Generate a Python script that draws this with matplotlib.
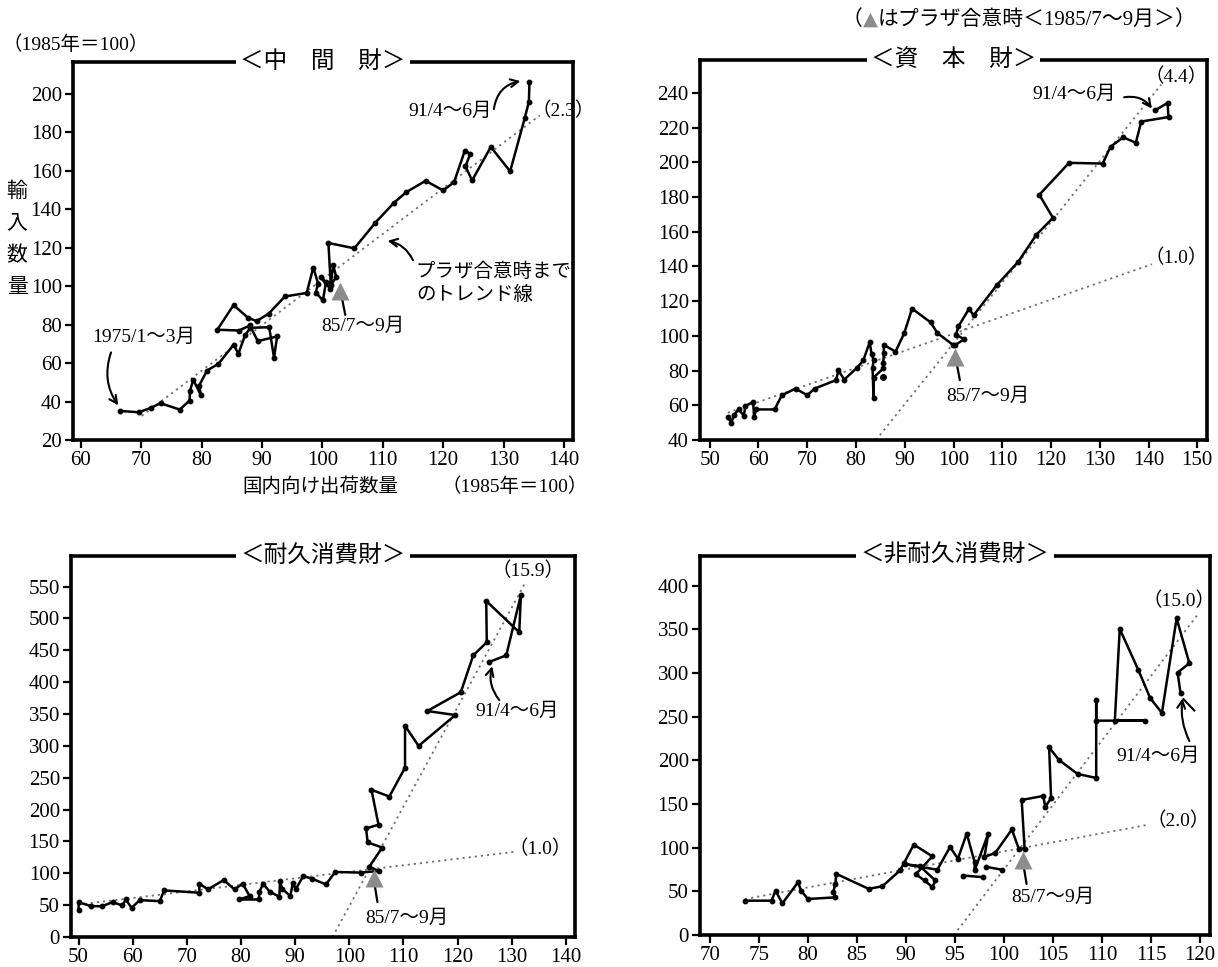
import numpy as np
import matplotlib.pyplot as plt

plt.rcParams['font.family'] = ['Liberation Serif', 'Noto Sans CJK JP']

# ---- data (x = domestic shipments, y = imports) ----
# 中間財
p1_x = [66.5, 69.6, 71.6, 73.2, 76.4, 78.0, 78.1, 78.6, 79.9, 79.6, 80.9, 82.8, 85.3, 86.1,
        87.2, 88.1, 91.2, 92.0, 92.5, 89.3, 88.0, 86.2, 82.6, 85.3, 87.7, 89.1, 91.1, 93.8,
        97.4, 98.5, 99.3, 98.9, 100.1, 100.6, 99.7, 101.3, 101.8, 102.3, 101.4, 101.0, 105.3,
        108.8, 111.9, 113.9, 117.1, 120.0, 121.8, 123.6, 124.5, 123.7, 124.8, 127.9, 131.1,
        133.5, 134.2, 134.3]
p1_y = [35.1, 34.4, 36.7, 39.1, 35.8, 40.5, 45.5, 51.4, 43.2, 48.3, 56.1, 59.6, 69.5, 64.8,
        74.5, 78.3, 78.6, 62.7, 73.8, 71.4, 79.5, 76.9, 77.3, 90.1, 83.5, 81.8, 85.6, 94.6,
        96.4, 109.6, 101.3, 96.6, 92.6, 102.1, 104.5, 98.6, 110.8, 104.7, 100.5, 122.4, 119.6,
        133.0, 143.4, 148.8, 154.7, 149.7, 153.9, 170.4, 168.7, 162.2, 154.9, 172.3, 159.6,
        187.1, 195.7, 206.1]
p1_trend = ([70.1, 136.0], [32.5, 188.7])

# 資本財
p2_x = [53.7, 54.4, 55.0, 55.9, 57.0, 57.3, 58.9, 59.1, 59.5, 63.3, 64.8, 67.6, 70.0, 71.5,
        75.9, 76.4, 77.6, 80.2, 81.5, 82.8, 83.2, 83.6, 83.4, 83.6, 83.6, 85.6, 85.6, 85.7,
        85.7, 88.1, 89.9, 91.5, 95.3, 96.7, 99.9, 100.4, 102.2, 100.5, 101.0, 103.2, 104.1,
        108.9, 113.3, 117.0, 120.4, 117.6, 123.7, 130.6, 132.2, 134.8, 137.4, 138.5, 144.1,
        143.9, 141.3]
p2_y = [53.2, 49.9, 54.5, 57.6, 54.1, 59.6, 61.9, 53.2, 57.6, 57.6, 65.8, 69.6, 65.8, 69.6,
        74.5, 80.1, 74.8, 81.6, 85.9, 96.3, 89.6, 86.1, 81.2, 64.2, 76.0, 81.2, 84.5, 90.0,
        94.8, 90.9, 101.6, 115.7, 107.8, 101.6, 94.8, 94.8, 98.1, 100.6, 105.4, 115.7, 111.8,
        129.3, 142.8, 158.3, 168.0, 181.3, 199.7, 199.3, 209.0, 214.4, 211.3, 223.5, 226.1,
        234.2, 229.9]
p2_stray = ([85.6], [76.5])
p2_trend_lo = ([53.7, 140.7], [55.7, 141.3])
p2_trend_hi = ([84.1, 142.6], [40.0, 244.8])

# 耐久消費財
p3_x = [50.0, 50.0, 52.3, 54.3, 56.3, 58.1, 58.7, 59.8, 61.3, 65.0, 65.8, 72.3, 72.3, 73.9,
        76.8, 78.8, 80.3, 81.6, 79.6, 83.3, 83.4, 84.1, 85.3, 87.1, 87.2, 87.6, 89.1, 89.6,
        90.1, 91.5, 93.1, 95.7, 97.4, 102.1, 105.4, 103.7, 106.1, 103.4, 103.1, 105.4, 104.1,
        107.4, 110.3, 110.3, 112.8, 119.6, 114.4, 120.6, 122.9, 125.4, 125.3, 131.4, 131.7,
        129.0, 125.8]
p3_y = [43.0, 54.7, 48.4, 48.4, 54.7, 49.5, 58.9, 45.8, 57.9, 56.3, 73.2, 69.5, 83.7, 74.7,
        89.5, 74.7, 83.7, 64.2, 58.9, 58.9, 71.1, 83.7, 71.1, 63.2, 87.9, 76.0, 64.2, 85.3,
        74.7, 95.8, 91.6, 82.6, 102.1, 101.1, 103.7, 110.5, 140.5, 148.4, 170.5, 176.3, 231.1,
        220.5, 265.8, 331.6, 300.0, 348.4, 354.7, 384.2, 442.1, 462.6, 527.4, 478.4, 536.8,
        442.1, 431.6]
p3_trend_lo = ([50.0, 131.0], [51.0, 134.2])
p3_trend_hi = ([96.9, 132.5], [0.0, 556.0])

# 非耐久消費財
p4_x = [73.6, 76.3, 76.7, 77.4, 79.0, 79.3, 80.0, 82.8, 82.6, 82.8, 82.9, 86.2, 87.6, 89.4,
        89.8, 90.8, 92.7, 91.0, 91.9, 92.7, 93.0, 91.4, 89.9, 93.2, 94.5, 95.3, 96.2, 97.0,
        97.0, 98.4, 98.0, 99.1, 100.8, 101.5, 102.1, 101.8, 104.0, 104.2, 104.8, 104.6, 105.6,
        107.5, 109.4, 109.4, 109.4, 114.4, 111.3, 111.8, 113.7, 114.9, 116.1, 117.6, 118.9,
        117.7, 118.0]
p4_y = [39.3, 39.3, 50.8, 36.2, 60.4, 50.8, 41.2, 43.1, 49.5, 58.5, 70.0, 52.8, 55.8, 73.9,
        82.3, 103.5, 90.0, 69.5, 62.4, 54.7, 62.4, 79.0, 81.0, 74.7, 100.8, 87.3, 116.2, 83.5,
        73.9, 116.2, 89.3, 93.9, 120.8, 98.9, 98.9, 154.6, 159.2, 146.9, 156.5, 214.9, 200.4,
        184.4, 179.8, 269.1, 245.4, 245.4, 245.4, 350.4, 303.4, 271.4, 254.2, 362.6, 311.1,
        300.4, 276.7]
p4_extra_x = [95.8, 97.9, np.nan, 98.2, 99.8]
p4_extra_y = [68.1, 66.2, np.nan, 78.0, 74.7]
p4_trend_lo = ([73.6, 114.6], [41.2, 126.0])
p4_trend_hi = ([94.9, 119.8], [0.0, 367.6])

titles = ['＜中　間　財＞', '＜資　本　財＞', '＜耐久消費財＞', '＜非耐久消費財＞']
plaza_label = '85/7～9月'
last_label = '91/4～6月'

fig = plt.figure(figsize=(12.18, 9.67), dpi=100)


def setup(rect, xlim, ylim, xticks, yticks, title):
    ax = fig.add_axes(rect)
    ax.set_xlim(*xlim)
    ax.set_ylim(*ylim)
    ax.set_xticks(xticks)
    ax.set_yticks(yticks)
    for s in ax.spines.values():
        s.set_linewidth(2.6)
    ax.tick_params(direction='out', length=6, width=1.6, labelsize=15, pad=2)
    ax.text(0.5, 1.0, title, transform=ax.transAxes, ha='center', va='center',
            fontsize=17, bbox=dict(fc='white', ec='none', pad=3), zorder=10)
    return ax


def series(ax, x, y):
    ax.plot(x, y, '-', color='black', lw=1.8, marker='o', ms=3.2, zorder=4)


def trend(ax, line):
    ax.plot(line[0], line[1], ls=(0, (1.2, 2.2)), color='#707070', lw=1.3, zorder=2)


def plaza(ax, tip, tail, text_xy):
    # black stem with a grey triangle head
    ax.annotate('', xy=tip, xytext=tail,
                arrowprops=dict(arrowstyle='-', color='black', lw=1.6, shrinkA=0, shrinkB=0))
    ax.plot([tip[0]], [tip[1]], marker='^', ms=13, color='#8c8c8c', mec='none', zorder=5)
    ax.text(text_xy[0], text_xy[1], plaza_label, ha='center', va='center', fontsize=14)


def curved(ax, start, end, rad):
    ax.annotate('', xy=end, xytext=start,
                arrowprops=dict(arrowstyle='->', color='black', lw=1.5,
                                connectionstyle='arc3,rad=%s' % rad, shrinkA=0, shrinkB=0,
                                mutation_scale=14))


# ---- 中間財 ----
ax1 = setup([0.0599, 0.545, 0.4105, 0.391], (58.7, 141.5), (20, 216.5),
            range(60, 141, 10), range(20, 201, 20), titles[0])
trend(ax1, p1_trend)
series(ax1, p1_x, p1_y)
plaza(ax1, (103.0, 97.5), (103.8, 85.0), (106.7, 79.0))
ax1.text(70.5, 73.5, '1975/1～3月', ha='center', va='center', fontsize=14)
curved(ax1, (65.0, 65.5), (66.2, 38.0), 0.25)
ax1.text(121.2, 191.0, last_label, ha='center', va='center', fontsize=14)
curved(ax1, (128.4, 192.0), (132.8, 206.5), -0.35)
ax1.text(139.9, 191.0, '（2.3）', ha='center', va='center', fontsize=14)
ax1.text(115.5, 101.5, 'プラザ合意時まで\nのトレンド線', ha='left', va='center',
         fontsize=14, linespacing=1.35)
curved(ax1, (115.0, 113.5), (110.8, 123.5), 0.25)
fig.text(0.002, 1 - 45 / 967, '（1985年＝100）', ha='left', va='center', fontsize=14)
fig.text(17 / 1218, 1 - 240 / 967, '輸\n入\n数\n量', ha='center', va='center',
         fontsize=15, linespacing=1.9)
fig.text(320 / 1218, 1 - 487 / 967, '国内向け出荷数量', ha='center', va='center', fontsize=14)
fig.text(515 / 1218, 1 - 487 / 967, '（1985年＝100）', ha='center', va='center', fontsize=14)

# ---- 資本財 ----
ax2 = setup([0.5747, 0.545, 0.4163, 0.393], (48, 152), (40, 259),
            range(50, 151, 10), range(40, 241, 20), titles[1])
trend(ax2, p2_trend_lo)
trend(ax2, p2_trend_hi)
series(ax2, p2_x, p2_y)
ax2.plot(p2_stray[0], p2_stray[1], 'o', color='black', ms=4, zorder=4)
plaza(ax2, (100.4, 88.0), (101.3, 74.5), (107.0, 65.5))
ax2.text(124.8, 239.0, last_label, ha='center', va='center', fontsize=14)
curved(ax2, (135.0, 237.5), (140.7, 231.0), -0.3)
ax2.text(145.6, 249.5, '（4.4）', ha='center', va='center', fontsize=14)
ax2.text(145.6, 145.0, '（1.0）', ha='center', va='center', fontsize=14)

# note with grey triangle, built piece by piece
t0 = fig.text(842 / 1218, 1 - 20 / 967, '（', ha='left', va='center', fontsize=15)
t1 = ax2.annotate('▲', xy=(1, 0.05), xycoords=t0, va='bottom', ha='left',
                  fontsize=14, color='#8c8c8c', family=['DejaVu Sans'])
ax2.annotate('はプラザ合意時＜1985/7～9月＞）', xy=(1, -0.05), xycoords=t1, va='bottom',
             ha='left', fontsize=15)

# ---- 耐久消費財 ----
ax3 = setup([0.0583, 0.031, 0.4138, 0.394], (48.6, 141.7), (0, 598),
            range(50, 141, 10), range(0, 551, 50), titles[2])
trend(ax3, p3_trend_lo)
trend(ax3, p3_trend_hi)
series(ax3, p3_x, p3_y)
plaza(ax3, (104.5, 92.0), (105.2, 55.0), (110.7, 30.0))
ax3.text(131.0, 355.0, last_label, ha='center', va='center', fontsize=14)
curved(ax3, (127.7, 372.0), (126.4, 425.0), -0.25)
ax3.text(133.0, 574.0, '（15.9）', ha='center', va='center', fontsize=14)
ax3.text(135.3, 138.0, '（1.0）', ha='center', va='center', fontsize=14)

# ---- 非耐久消費財 ----
ax4 = setup([0.5747, 0.0331, 0.4187, 0.392], (69, 121), (0, 434),
            range(70, 121, 5), range(0, 401, 50), titles[3])
trend(ax4, p4_trend_lo)
trend(ax4, p4_trend_hi)
series(ax4, p4_x, p4_y)
series(ax4, p4_extra_x, p4_extra_y)
plaza(ax4, (101.9, 86.0), (102.3, 58.5), (105.0, 43.0))
ax4.text(115.7, 205.0, last_label, ha='center', va='center', fontsize=14)
curved(ax4, (118.9, 222.0), (118.2, 271.0), -0.15)
ax4.plot([118.3, 119.4], [270.0, 257.0], color='black', lw=1.5)
ax4.text(117.8, 382.5, '（15.0）', ha='center', va='center', fontsize=14)
ax4.text(117.8, 131.0, '（2.0）', ha='center', va='center', fontsize=14)

fig.savefig('out.png', dpi=100)
